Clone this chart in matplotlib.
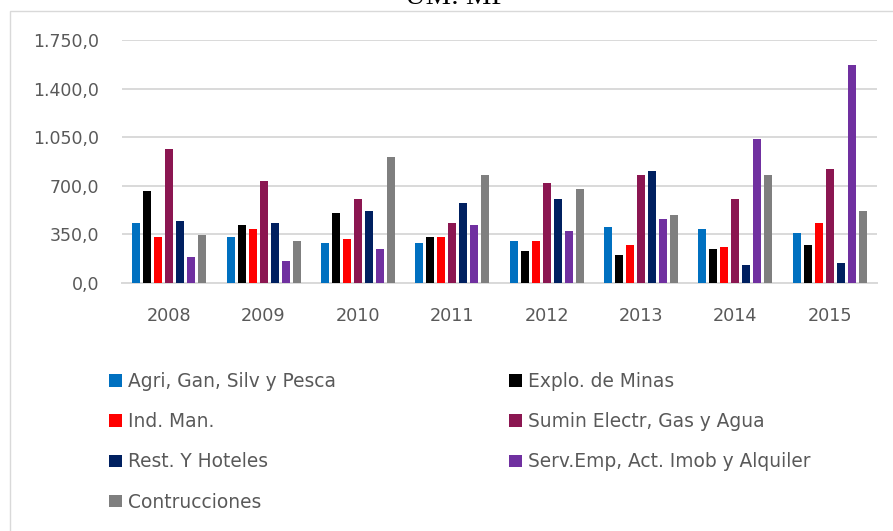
import matplotlib
matplotlib.use('Agg')
import matplotlib.pyplot as plt
from matplotlib.patches import Rectangle
from matplotlib.ticker import FuncFormatter

years = ['2008', '2009', '2010', '2011', '2012', '2013', '2014', '2015']

series_names = [
    'Agri, Gan, Silv y Pesca',
    'Explo. de Minas',
    'Ind. Man.',
    'Sumin Electr, Gas y Agua',
    'Rest. Y Hoteles',
    'Serv.Emp, Act. Imob y Alquiler',
    'Contrucciones',
]

agri = [432, 331, 288, 288, 302, 403, 389, 360]
minas = [662, 418, 504, 331, 230, 202, 245, 274]
ind_man = [331, 389, 317, 331, 302, 274, 259, 432]
sumin = [965, 735, 605, 432, 720, 778, 605, 821]
rest_hot = [446, 432, 518, 576, 605, 806, 130, 144]
serv_emp = [187, 158, 245, 418, 374, 461, 1037, 1570]
construc = [346, 302, 907, 778, 677, 490, 778, 518]

series = [agri, minas, ind_man, sumin, rest_hot, serv_emp, construc]
colors = ['#0070c0', '#000000', '#ff0000', '#8b1651', '#002060', '#7030a0', '#7f7f7f']

W, H = 893, 531
fig = plt.figure(figsize=(W / 100, H / 100), dpi=100)
fig.patch.set_facecolor('white')

# chart frame (cut off on the right and bottom like the source)
fig.patches.append(Rectangle((10 / W, -0.1), 1.1, (H - 11) / H + 0.1,
                             transform=fig.transFigure, fill=False,
                             edgecolor='#d9d9d9', linewidth=1.0))

# title sits mostly above the picture, as in the source
fig.text(456 / W, 1 - 4 / H, 'UM: MF', family='Liberation Serif',
         fontsize=20.5, ha='center', va='baseline', color='black')

ax = fig.add_axes([122 / W, (H - 283) / H, (877 - 122) / W, (283 - 40) / H])

step = 0.1165
width = 0.085
x = range(len(years))
for i, (vals, name, c) in enumerate(zip(series, series_names, colors)):
    ax.bar([k + (i - 3) * step for k in x], vals, width=width, color=c,
           label=name, zorder=3)

ax.set_xlim(-0.5, len(years) - 0.5)
ax.set_ylim(0, 1750)
ax.set_yticks(range(0, 1751, 350))
ax.yaxis.set_major_formatter(FuncFormatter(
    lambda v, p: f'{v:,.1f}'.replace(',', 'X').replace('.', ',').replace('X', '.')))
ax.set_xticks(list(x))
ax.set_xticklabels(years)

ax.grid(axis='y', color='#d9d9d9', linewidth=1.4, zorder=0)
for s in ['top', 'right', 'left']:
    ax.spines[s].set_visible(False)
ax.spines['bottom'].set_color('#d9d9d9')
ax.spines['bottom'].set_linewidth(1.4)
ax.tick_params(axis='y', length=0, pad=16.5, labelsize=12.5, labelcolor='#595959')
ax.tick_params(axis='x', length=0, pad=17, labelsize=12.7, labelcolor='#595959')

handles, labels = ax.get_legend_handles_labels()
order = [0, 2, 4, 6, 1, 3, 5]
leg = fig.legend([handles[k] for k in order], [labels[k] for k in order],
                 ncol=2, loc='upper left', bbox_to_anchor=(109 / W, 1 - 372 / H),
                 frameon=False, fontsize=13.4, borderpad=0, borderaxespad=0,
                 handlelength=0.7, handleheight=0.65, handletextpad=0.32,
                 labelspacing=1.14, columnspacing=9.3)
for t in leg.get_texts():
    t.set_color('#595959')

fig.savefig('out.png', dpi=100)
